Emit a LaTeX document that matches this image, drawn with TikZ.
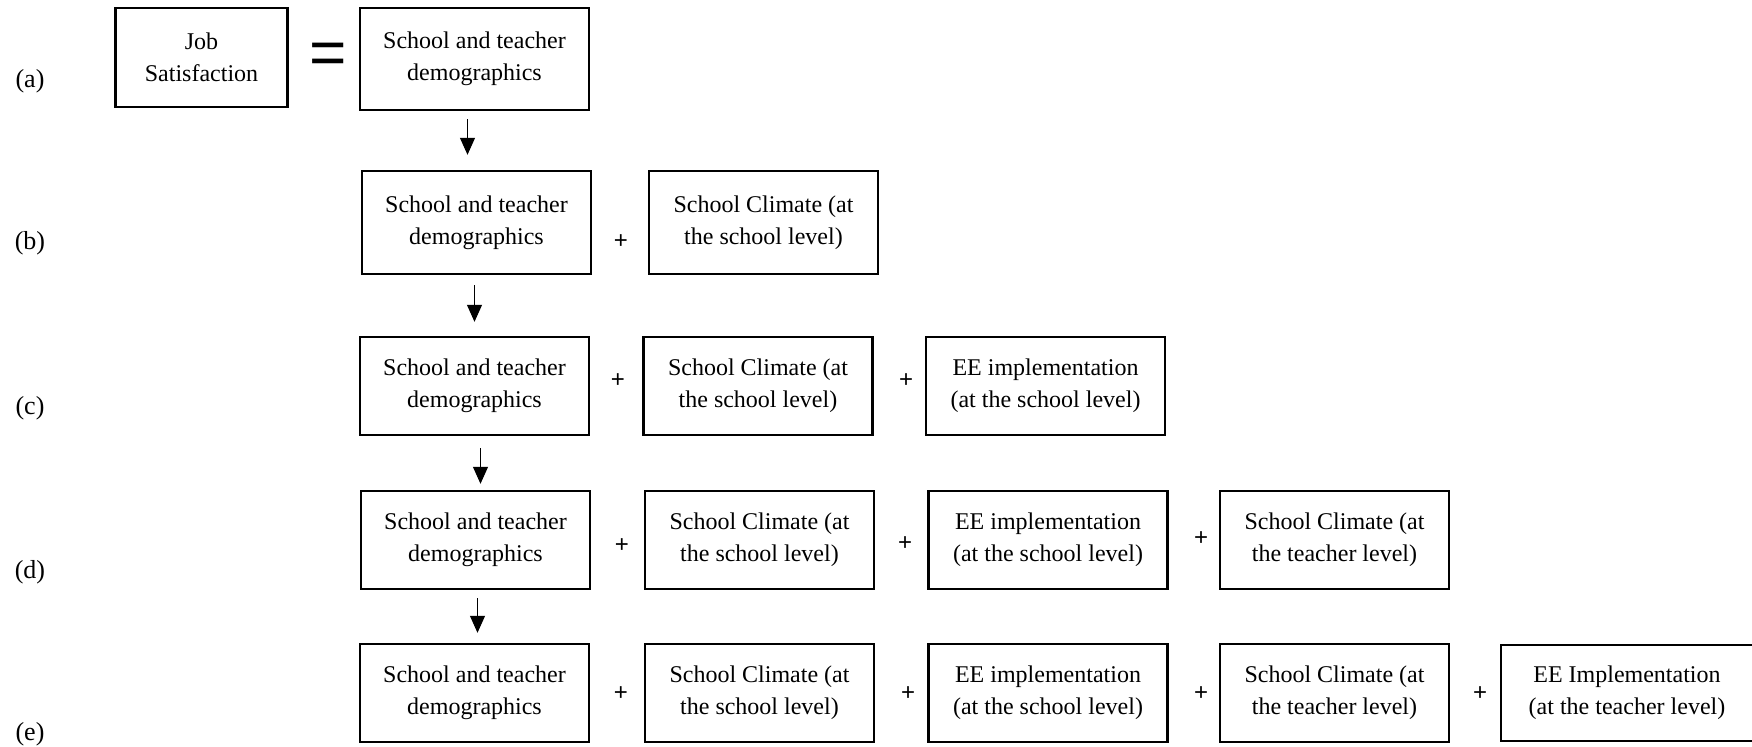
\documentclass[tikz,border=0pt]{standalone}
\usepackage{fontspec}
\setmainfont{Liberation Serif}
\newfontfamily\plusfont{Liberation Sans}
\usetikzlibrary{arrows.meta}
\begin{document}
\begin{tikzpicture}[x=0.5pt,y=-0.5pt,
  box/.style={draw,line width=1.2pt,align=center,inner sep=0pt,
    minimum width=114.5pt,minimum height=50pt,
    font=\fontsize{12}{16}\selectfont},
  wbox/.style={box,minimum width=119.5pt},
  lbl/.style={font=\fontsize{13}{15}\selectfont,inner sep=0pt},
  plus/.style={font=\plusfont\fontsize{12}{14}\selectfont,inner sep=0pt},
  flow/.style={line width=0.5pt,-{Triangle[width=7.5pt,length=8.5pt]}}]
\useasboundingbox (0,0) rectangle (1752,746);
\clip (0,0) rectangle (1752,746);
% labels
\node[lbl] (la) at (30,81) {(a)};
\node[lbl] (lb) at (30,243) {(b)};
\node[lbl] (lc) at (30,408) {(c)};
\node[lbl] (ld) at (30,572) {(d)};
\node[lbl] (le) at (30,734) {(e)};
% row a
\node[box,minimum width=86pt,minimum height=49.5pt] (job) at (201.5,57.5) {Job\\Satisfaction};
\node[font=\plusfont\fontsize{32}{32}\selectfont,inner sep=0pt] (eq) at (328.5,59) {=};
\node[box,minimum height=51pt] (a1) at (474.5,59) {School and teacher\\demographics};
% row b
\node[box,minimum height=51.5pt] (b1) at (476.5,222.5) {School and teacher\\demographics};
\node[plus] (pb1) at (621,242) {+};
\node[box,minimum height=51.5pt] (b2) at (763.5,222.5) {School Climate (at\\the school level)};
% row c
\node[box,minimum height=49pt] (c1) at (474.5,386) {School and teacher\\demographics};
\node[plus] (pc1) at (618,381) {+};
\node[box,minimum height=49pt] (c2) at (758,386) {School Climate (at\\the school level)};
\node[plus] (pc2) at (906,381) {+};
\node[wbox,minimum height=49pt] (c3) at (1045.5,386) {EE implementation\\(at the school level)};
% row d
\node[box,minimum height=49pt] (d1) at (475.5,540) {School and teacher\\demographics};
\node[plus] (pd1) at (622,546) {+};
\node[box,minimum height=49pt] (d2) at (759.5,540) {School Climate (at\\the school level)};
\node[plus] (pd2) at (905,544) {+};
\node[wbox,minimum height=49pt] (d3) at (1048,540) {EE implementation\\(at the school level)};
\node[plus] (pd3) at (1201,538.5) {+};
\node[box,minimum height=49pt] (d4) at (1334.5,540) {School Climate (at\\the teacher level)};
% row e
\node[box,minimum height=49pt] (e1) at (474.5,693) {School and teacher\\demographics};
\node[plus] (pe1) at (621,694) {+};
\node[box,minimum height=49pt] (e2) at (759.5,693) {School Climate (at\\the school level)};
\node[plus] (pe2) at (908,694) {+};
\node[wbox,minimum height=49pt] (e3) at (1048,693) {EE implementation\\(at the school level)};
\node[plus] (pe3) at (1201,694) {+};
\node[box,minimum height=49pt] (e4) at (1334.5,693) {School Climate (at\\the teacher level)};
\node[plus] (pe4) at (1480,694) {+};
\node[box,minimum width=126pt,minimum height=48pt] (e5) at (1627,693) {EE Implementation\\(at the teacher level)};
% arrows
\draw[flow] ([xshift=-3.5pt,yshift=-4pt]a1.south) -- ([xshift=-3.5pt,yshift=7.5pt]a1.south |- b1.north);
\draw[flow] ([xshift=-1pt,yshift=-5pt]b1.south) -- ([xshift=-1pt,yshift=7pt]b1.south |- c1.north);
\draw[flow] ([xshift=3pt,yshift=-6pt]c1.south) -- ([xshift=3pt,yshift=3pt]c1.south |- d1.north);
\draw[flow] ([xshift=1pt,yshift=-4pt]d1.south) -- ([xshift=1pt,yshift=5pt]d1.south |- e1.north);
\end{tikzpicture}
\end{document}
